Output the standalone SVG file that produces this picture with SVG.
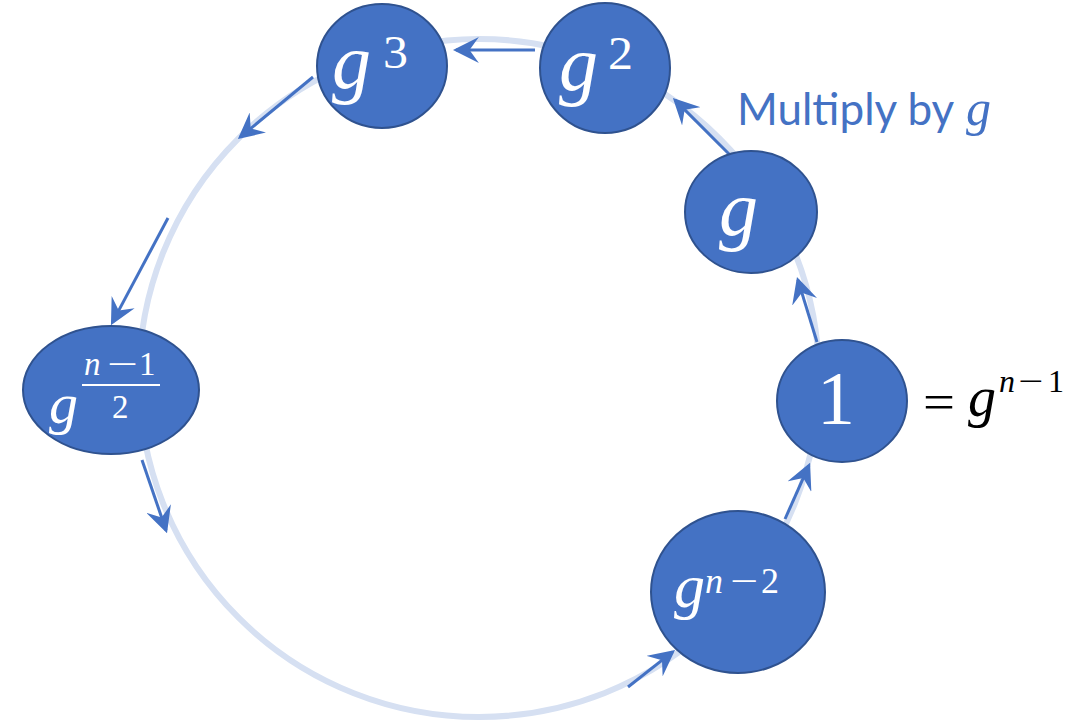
<svg xmlns="http://www.w3.org/2000/svg" width="1076" height="722" viewBox="0 0 1076 722">
<style>
.node{fill:#4472C4;stroke:#2F528F;stroke-width:2}
.conn{stroke:#4472C4;stroke-width:3;fill:none;marker-end:url(#ah)}
.m{font-family:"Liberation Serif","Times New Roman",serif;fill:#fff}
.i{font-style:italic}
.blk{fill:#000}
</style>
<defs>
<marker id="ah" markerUnits="userSpaceOnUse" markerWidth="26" markerHeight="26" viewBox="0 0 25 25" refX="22" refY="12.5" orient="auto">
<path d="M0,0 L25,12.5 L0,25 L9,12.5 z" fill="#4472C4"/>
</marker>
</defs>
<rect width="1076" height="722" fill="#fff"/>
<ellipse id="cycle" cx="479" cy="378" rx="340" ry="339" fill="none" stroke="#D6E0F2" stroke-width="6"/>
<g id="connectors">
<line class="conn" x1="535" y1="50" x2="456" y2="50"/>
<line class="conn" x1="313" y1="77" x2="240.3" y2="137.1"/>
<line class="conn" x1="168" y1="218" x2="112.4" y2="322.4"/>
<line class="conn" x1="142" y1="460" x2="166" y2="530.2"/>
<line class="conn" x1="628" y1="687" x2="672.6" y2="651.9"/>
<line class="conn" x1="785" y1="519" x2="808.8" y2="465.7"/>
<line class="conn" x1="817" y1="342" x2="797.9" y2="279.9"/>
<line class="conn" x1="730" y1="155" x2="675.1" y2="100.1"/>
</g>
<g id="node-g3">
<ellipse class="node" cx="382" cy="66" rx="65" ry="62"/>
<text class="m i" x="332" y="88" font-size="78">g</text>
<text class="m" x="383" y="68" font-size="46" textLength="25" lengthAdjust="spacingAndGlyphs">3</text>
</g>
<g id="node-g2">
<ellipse class="node" cx="605" cy="68" rx="65" ry="65"/>
<text class="m i" x="559" y="90" font-size="78">g</text>
<text class="m" x="608" y="69" font-size="46" textLength="25" lengthAdjust="spacingAndGlyphs">2</text>
</g>
<g id="node-g">
<ellipse class="node" cx="751" cy="212" rx="66" ry="61"/>
<text class="m i" x="719" y="235" font-size="78">g</text>
</g>
<g id="node-1">
<ellipse class="node" cx="842" cy="401" rx="65" ry="61"/>
<text class="m" x="836" y="424" font-size="76" text-anchor="middle">1</text>
</g>
<g id="node-gn2">
<ellipse class="node" cx="738" cy="592" rx="87" ry="81"/>
<text class="m i" x="674" y="607" font-size="62">g</text>
<text class="m i" x="705" y="593" font-size="36">n</text>
<text class="m" x="730" y="593" font-size="36" textLength="28" lengthAdjust="spacingAndGlyphs">−</text>
<text class="m" x="761" y="593" font-size="36">2</text>
</g>
<g id="node-ghalf">
<ellipse class="node" cx="111" cy="390" rx="88" ry="64"/>
<text class="m i" x="49" y="423" font-size="58">g</text>
<text class="m i" x="84" y="375" font-size="33">n</text>
<text class="m" x="107" y="375" font-size="33" textLength="31" lengthAdjust="spacingAndGlyphs">−</text>
<text class="m" x="139" y="375" font-size="33">1</text>
<line x1="82" y1="385" x2="160" y2="385" stroke="#fff" stroke-width="2"/>
<text class="m" x="112" y="418" font-size="33">2</text>
</g>
<g id="label-eq">
<text class="m blk" x="923" y="419" font-size="50" textLength="32" lengthAdjust="spacingAndGlyphs">=</text>
<text class="m i blk" x="968" y="416" font-size="56">g</text>
<text class="m i blk" x="999" y="392" font-size="32">n</text>
<text class="m blk" x="1018" y="392" font-size="32" textLength="25" lengthAdjust="spacingAndGlyphs">−</text>
<text class="m blk" x="1048" y="392" font-size="32">1</text>
</g>
<g id="label-multiply">
<text x="737" y="125" font-family="Lato,'Liberation Sans',sans-serif" font-size="44" fill="#4472C4">Multiply by</text>
<text x="966" y="125" font-family="'Liberation Serif',serif" font-style="italic" font-size="50" fill="#4472C4">g</text>
</g>
</svg>
